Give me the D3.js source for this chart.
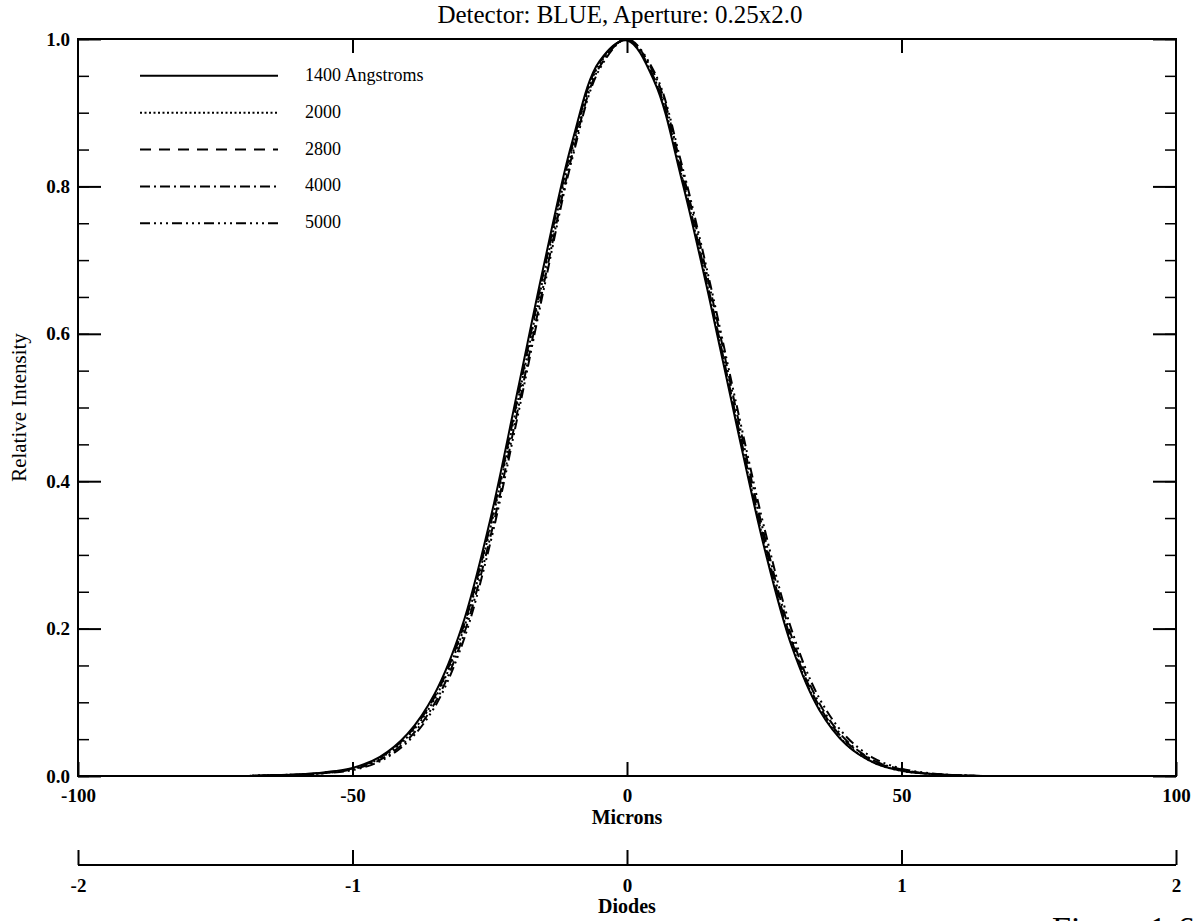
<!DOCTYPE html>
<html>
<head>
<meta charset="utf-8">
<script src="https://cdn.jsdelivr.net/npm/d3@7"></script>
<style>
  body { margin: 0; background: #fff; }
  text { font-family: "Liberation Serif", "Times New Roman", serif; fill: #000; }
</style>
</head>
<body>
<svg id="chart"></svg>
<script>
// position along the slit, microns
var microns = [-100, -80, -70, -65, -60, -55, -50, -45, -40, -35, -30, -25, -20, -15, -10, -5,
               0, 5, 10, 15, 20, 25, 30, 35, 40, 45, 50, 55, 60, 65, 70, 80, 100];

// relative intensity per wavelength
var int1400 = [0, 0, 0, 0.001, 0.002, 0.005, 0.011, 0.026, 0.057, 0.112, 0.204, 0.345, 0.520, 0.698, 0.860, 0.970,
               0.998, 0.942, 0.808, 0.648, 0.475, 0.310, 0.176, 0.090, 0.042, 0.018, 0.007, 0.003, 0.001, 0, 0, 0, 0];
var int2000 = [0, 0, 0, 0.001, 0.002, 0.004, 0.010, 0.024, 0.053, 0.105, 0.194, 0.333, 0.505, 0.685, 0.850, 0.966,
               0.999, 0.946, 0.813, 0.653, 0.480, 0.315, 0.179, 0.092, 0.043, 0.018, 0.007, 0.003, 0.001, 0, 0, 0, 0];
var int2800 = [0, 0, 0, 0.001, 0.002, 0.005, 0.010, 0.025, 0.055, 0.108, 0.198, 0.337, 0.510, 0.690, 0.854, 0.968,
               0.999, 0.946, 0.815, 0.656, 0.483, 0.319, 0.183, 0.095, 0.046, 0.020, 0.008, 0.003, 0.001, 0, 0, 0, 0];
var int4000 = [0, 0, 0, 0.001, 0.002, 0.004, 0.009, 0.022, 0.049, 0.099, 0.186, 0.321, 0.493, 0.673, 0.842, 0.962,
               1.000, 0.952, 0.823, 0.666, 0.493, 0.327, 0.189, 0.099, 0.048, 0.021, 0.009, 0.003, 0.001, 0, 0, 0, 0];
var int5000 = [0, 0, 0, 0.001, 0.002, 0.004, 0.008, 0.020, 0.046, 0.094, 0.179, 0.313, 0.485, 0.666, 0.837, 0.959,
               1.000, 0.955, 0.829, 0.673, 0.502, 0.337, 0.198, 0.106, 0.053, 0.024, 0.010, 0.004, 0.001, 0, 0, 0, 0];

var seriesNames = ["1400 Angstroms", "2000", "2800", "4000", "5000"];
var seriesValues = [int1400, int2000, int2800, int4000, int5000];
var seriesDash = ["none", "2,2.5", "11,8", "10,4,2,4", "10,4,2,4,2,4,2,4"];

var micronTicks = [-100, -50, 0, 50, 100];
var topTicks = [-50, 0, 50];
var diodeTicks = [-2, -1, 0, 1, 2];
var yMajor = [0, 0.2, 0.4, 0.6, 0.8, 1.0];
var yMinor = d3.range(0, 1.0001, 0.05);

var width = 1197, height = 921;
var plotL = 78, plotR = 1176, plotT = 39, plotB = 776;

var svg = d3.select("svg#chart")
    .attr("width", width)
    .attr("height", height);

var x = d3.scaleLinear().domain([-100, 100]).range([plotL, plotR]);
var xd = d3.scaleLinear().domain([-2, 2]).range([plotL, plotR]);
var y = d3.scaleLinear().domain([0, 1]).range([plotB, plotT]);

// plain hyphen for negatives, like the original
var intFmt = function(d) { return String(d); };

// frame
svg.append("rect")
    .attr("x", plotL).attr("y", plotT)
    .attr("width", plotR - plotL).attr("height", plotB - plotT)
    .attr("fill", "none").attr("stroke", "#000").attr("stroke-width", 2);

// left axis: minor then major ticks pointing inward
svg.append("g").attr("class", "minor").attr("transform", "translate(" + plotL + ",0)")
    .call(d3.axisLeft(y).tickValues(yMinor).tickSize(-11).tickSizeOuter(0).tickFormat(""))
    .call(function(g) { g.select(".domain").remove(); });
svg.append("g").attr("transform", "translate(" + plotL + ",0)")
    .call(d3.axisLeft(y).tickValues(yMajor).tickSize(-23).tickSizeOuter(0).tickPadding(8).tickFormat(d3.format(".1f")))
    .call(function(g) { g.select(".domain").remove(); });

// right axis
svg.append("g").attr("class", "minor").attr("transform", "translate(" + plotR + ",0)")
    .call(d3.axisRight(y).tickValues(yMinor).tickSize(-11).tickSizeOuter(0).tickFormat(""))
    .call(function(g) { g.select(".domain").remove(); });
svg.append("g").attr("transform", "translate(" + plotR + ",0)")
    .call(d3.axisRight(y).tickValues(yMajor).tickSize(-23).tickSizeOuter(0).tickFormat(""))
    .call(function(g) { g.select(".domain").remove(); });

// bottom microns axis
svg.append("g").attr("transform", "translate(0," + plotB + ")")
    .call(d3.axisBottom(x).tickValues(micronTicks).tickSize(-14).tickSizeOuter(0).tickPadding(13).tickFormat(intFmt))
    .call(function(g) { g.select(".domain").remove(); });
svg.append("g").attr("transform", "translate(0," + plotT + ")")
    .call(d3.axisTop(x).tickValues(topTicks).tickSize(-14).tickSizeOuter(0).tickFormat(""))
    .call(function(g) { g.select(".domain").remove(); });

// diodes axis
var diodeY = 865;
svg.append("g").attr("transform", "translate(0," + diodeY + ")")
    .call(d3.axisBottom(xd).tickValues(diodeTicks).tickSize(-15).tickSizeOuter(0).tickPadding(14).tickFormat(intFmt))
    .call(function(g) { g.select(".domain").attr("d", "M" + plotL + ",0H" + plotR); });

svg.selectAll(".tick line").attr("stroke", "#000").attr("stroke-width", 2);
svg.selectAll(".minor .tick line").attr("stroke-width", 1.5);
svg.selectAll(".domain").attr("stroke", "#000").attr("stroke-width", 2);
svg.selectAll(".tick text")
    .attr("font-family", "Liberation Serif, serif")
    .attr("font-size", 19)
    .attr("font-weight", "bold")
    .attr("fill", "#000");

// curves
var line = d3.line()
    .x(function(d) { return x(d[0]); })
    .y(function(d) { return y(d[1]); })
    .curve(d3.curveCatmullRom.alpha(0.5));

seriesValues.forEach(function(vals, i) {
    var pts = microns.map(function(m, j) { return [m, vals[j]]; });
    svg.append("path")
        .datum(pts)
        .attr("d", line)
        .attr("fill", "none")
        .attr("stroke", "#000")
        .attr("stroke-width", 2)
        .attr("stroke-dasharray", seriesDash[i]);
});

// legend, one row per minor tick below the top
seriesNames.forEach(function(name, i) {
    var ly = y(0.95 - i * 0.05);
    svg.append("line")
        .attr("x1", 140).attr("x2", 278)
        .attr("y1", ly).attr("y2", ly)
        .attr("stroke", "#000").attr("stroke-width", 2)
        .attr("stroke-dasharray", seriesDash[i]);
    svg.append("text")
        .attr("x", 305).attr("y", ly + 5)
        .attr("font-size", 18)
        .text(name);
});

// titles
svg.append("text")
    .attr("x", 620).attr("y", 23)
    .attr("text-anchor", "middle")
    .attr("font-size", 25)
    .text("Detector: BLUE, Aperture: 0.25x2.0");

svg.append("text")
    .attr("x", 627).attr("y", 824)
    .attr("text-anchor", "middle")
    .attr("font-size", 20)
    .attr("font-weight", "bold")
    .text("Microns");

svg.append("text")
    .attr("x", 627).attr("y", 913)
    .attr("text-anchor", "middle")
    .attr("font-size", 20)
    .attr("font-weight", "bold")
    .text("Diodes");

svg.append("text")
    .attr("transform", "translate(26," + ((plotT + plotB) / 2) + ") rotate(-90)")
    .attr("text-anchor", "middle")
    .attr("font-size", 21)
    .text("Relative Intensity");

// figure caption, cut by the page edge
svg.append("text")
    .attr("x", 1052).attr("y", 940)
    .attr("font-size", 34)
    .text("Figure 1-6");
</script>
</body>
</html>
